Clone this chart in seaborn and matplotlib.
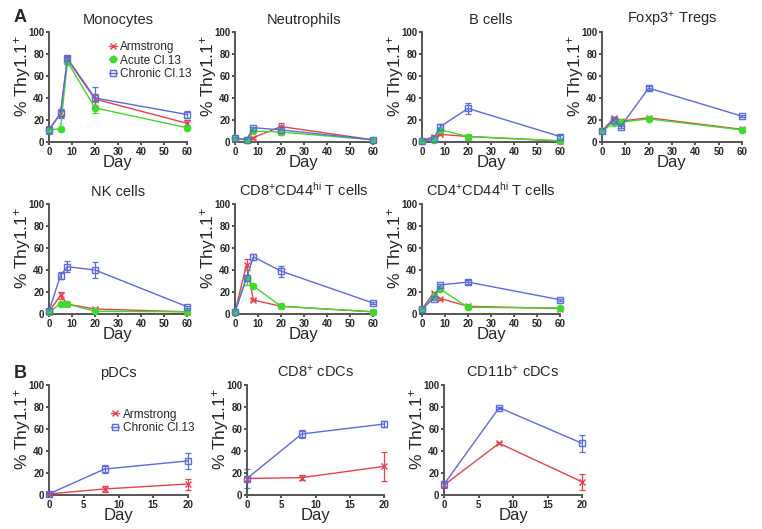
import matplotlib
matplotlib.use('Agg')
import matplotlib.pyplot as plt
import seaborn as sns
import pandas as pd

sns.set_style('ticks')
plt.rcParams['font.family'] = ['Liberation Sans', 'DejaVu Sans']
plt.rcParams['mathtext.fontset'] = 'custom'
plt.rcParams['mathtext.rm'] = 'Liberation Sans'
plt.rcParams['mathtext.it'] = 'Liberation Sans:italic'
plt.rcParams['mathtext.bf'] = 'Liberation Sans:bold'

RED = '#e8404c'
GREEN = '#3ddc2a'
BLUE = '#5a6be0'

days_a = [0, 5, 8, 20, 60]
days_b = [0, 8, 20]

# panel A
mono_arm = [11, 26, 75, 39, 17]
mono_arm_err = [2, 3, 2, 5, 3]
mono_acu = [11, 12, 73, 31, 13]
mono_acu_err = [2, 1, 2, 5, 2]
mono_chr = [11, 26, 76, 40, 25]
mono_chr_err = [4, 4, 2, 10, 3]

neut_arm = [3, 2, 4, 14, 2]
neut_arm_err = [1, 1, 1, 3, 1]
neut_acu = [3.5, 2, 10, 9, 2]
neut_acu_err = [1, 1, 1, 3, 1]
neut_chr = [3.7, 2, 13, 11, 2]
neut_chr_err = [1, 1, 1, 4, 1]

bcell_arm = [1, 5, 7, 5, 1]
bcell_arm_err = [0.5, 1, 1, 1, 0.5]
bcell_acu = [1, 2, 11, 5, 1]
bcell_acu_err = [0.5, 1, 1, 1, 0.5]
bcell_chr = [1, 3, 14, 30.5, 5]
bcell_chr_err = [0.5, 1, 2, 5, 1]

treg_arm = [10, 21.5, 19, 22, 11.5]
treg_arm_err = [1, 1.5, 1, 1, 1]
treg_acu = [10, 17, 18, 21, 11]
treg_acu_err = [1, 1, 1, 1, 1]
treg_chr = [10, 20, 14, 49, 23.5]
treg_chr_err = [1, 1.5, 1, 2, 1]

nk_arm = [2, 17, 9, 4.5, 2]
nk_arm_err = [0.5, 3, 1, 1, 0.5]
nk_acu = [2, 9, 9, 2.5, 2]
nk_acu_err = [0.5, 1, 1, 0.5, 0.5]
nk_chr = [2.7, 35, 43, 40, 6.7]
nk_chr_err = [1, 3, 5, 7, 1]

cd8_arm = [2, 45, 12.7, 7, 2]
cd8_arm_err = [0.5, 5, 1, 1, 0.5]
cd8_acu = [2, 33, 25.5, 7, 2]
cd8_acu_err = [0.5, 7, 1, 1, 0.5]
cd8_chr = [2, 33, 52, 39, 10]
cd8_chr_err = [0.5, 2, 3, 5, 1]

cd4_arm = [4.5, 19, 14, 7, 5]
cd4_arm_err = [0.5, 1, 1, 1, 0.5]
cd4_acu = [4.5, 16, 22.5, 6, 5.5]
cd4_acu_err = [0.5, 1, 1, 1, 0.5]
cd4_chr = [4.5, 14, 26.5, 29, 13]
cd4_chr_err = [0.5, 1, 1, 1.5, 1]

# panel B
pdc_arm = [1, 5.5, 10]
pdc_arm_err = [0.5, 3, 5]
pdc_chr = [1, 23.6, 31]
pdc_chr_err = [1, 4, 7]

cd8dc_arm = [15, 15.8, 26]
cd8dc_arm_err = [2, 2, 13]
cd8dc_chr = [15, 55.5, 64.5]
cd8dc_chr_err = [9, 4, 3]

cd11b_arm = [9, 47, 12]
cd11b_arm_err = [2, 1, 7]
cd11b_chr = [9.7, 79.4, 47]
cd11b_chr_err = [3, 1, 8]

W, H = 762, 529
fig = plt.figure(figsize=(W / 100, H / 100), dpi=100)


def make_ax(x0, x1, ytop, ybot):
    return fig.add_axes([x0 / W, 1 - ybot / H, (x1 - x0) / W, (ybot - ytop) / H])


def draw_series(ax, days, vals, errs, color, marker, label, mfc):
    df = pd.DataFrame({'Day': days, 'val': vals})
    sns.lineplot(data=df, x='Day', y='val', ax=ax, color=color, marker=marker,
                 markersize=4.5, mfc=mfc, mec=color,
                 mew=1.0, lw=1.0, label=label, clip_on=False, zorder=3)
    ax.errorbar(days, vals, yerr=errs, fmt='none', ecolor=color, elinewidth=0.9,
                capsize=2.2, capthick=0.9, clip_on=False, zorder=2)


def style_ax(ax, title, xmax, xstep):
    ax.set_xlim(0, xmax)
    ax.set_ylim(0, 100)
    ax.set_xticks(range(0, xmax + 1, xstep))
    ax.set_yticks(range(0, 101, 20))
    for lab in ax.get_xticklabels() + ax.get_yticklabels():
        lab.set_fontweight('bold')
    ax.tick_params(labelsize=7, length=2.5, width=1.2, pad=1, color='#333333')
    for s in ['top', 'right']:
        ax.spines[s].set_visible(False)
    for s in ['left', 'bottom']:
        ax.spines[s].set_linewidth(1.4)
        ax.spines[s].set_color('#555555')
    ax.set_title(title, fontsize=10.5, pad=6)
    ax.set_xlabel('Day', fontsize=12, labelpad=-1)
    ax.set_ylabel('% Thy1.1$^{+}$', fontsize=12.5)
    ax.yaxis.set_label_coords(-0.115, 0.6)


panels_a = [
    ('Monocytes', (49, 187, 32, 142), mono_arm, mono_arm_err, mono_acu, mono_acu_err, mono_chr, mono_chr_err),
    ('Neutrophils', (235, 373, 32, 142), neut_arm, neut_arm_err, neut_acu, neut_acu_err, neut_chr, neut_chr_err),
    ('B cells', (422, 560, 32, 142), bcell_arm, bcell_arm_err, bcell_acu, bcell_acu_err, bcell_chr, bcell_chr_err),
    ('Foxp3$^{+}$ Tregs', (602, 742, 32, 142), treg_arm, treg_arm_err, treg_acu, treg_acu_err, treg_chr, treg_chr_err),
    ('NK cells', (49, 187, 204, 314), nk_arm, nk_arm_err, nk_acu, nk_acu_err, nk_chr, nk_chr_err),
    ('CD8$^{+}$CD44$^{\\mathrm{hi}}$ T cells', (235, 373, 204, 314), cd8_arm, cd8_arm_err, cd8_acu, cd8_acu_err, cd8_chr, cd8_chr_err),
    ('CD4$^{+}$CD44$^{\\mathrm{hi}}$ T cells', (422, 560, 204, 314), cd4_arm, cd4_arm_err, cd4_acu, cd4_acu_err, cd4_chr, cd4_chr_err),
]

for i, (title, box, arm, arm_e, acu, acu_e, chro, chro_e) in enumerate(panels_a):
    ax = make_ax(*box)
    draw_series(ax, days_a, arm, arm_e, RED, 'x', 'Armstrong', RED)
    draw_series(ax, days_a, acu, acu_e, GREEN, 'o', 'Acute Cl.13', GREEN)
    draw_series(ax, days_a, chro, chro_e, BLUE, 's', 'Chronic Cl.13', 'none')
    style_ax(ax, title, 60, 10)
    if i == 0:
        ax.legend(loc='upper right', bbox_to_anchor=(1.07, 0.96), frameon=False, fontsize=8.5,
                  handlelength=0.7, handletextpad=0.3, labelspacing=0.12, borderaxespad=0)
    else:
        ax.get_legend().remove()

panels_b = [
    ('pDCs', (49, 188, 385, 495), pdc_arm, pdc_arm_err, pdc_chr, pdc_chr_err),
    ('CD8$^{+}$ cDCs', (247, 384, 385, 495), cd8dc_arm, cd8dc_arm_err, cd8dc_chr, cd8dc_chr_err),
    ('CD11b$^{+}$ cDCs', (444, 582, 385, 495), cd11b_arm, cd11b_arm_err, cd11b_chr, cd11b_chr_err),
]

for i, (title, box, arm, arm_e, chro, chro_e) in enumerate(panels_b):
    ax = make_ax(*box)
    draw_series(ax, days_b, arm, arm_e, RED, 'x', 'Armstrong', RED)
    draw_series(ax, days_b, chro, chro_e, BLUE, 's', 'Chronic Cl.13', 'none')
    style_ax(ax, title, 20, 5)
    if i == 0:
        ax.legend(loc='center right', bbox_to_anchor=(1.08, 0.67), frameon=False, fontsize=8.5,
                  handlelength=0.7, handletextpad=0.3, labelspacing=0.12, borderaxespad=0)
    else:
        ax.get_legend().remove()

fig.text(14 / W, 1 - 18 / H, 'A', fontsize=13, fontweight='bold', va='center', ha='left')
fig.text(14 / W, 1 - 373 / H, 'B', fontsize=13, fontweight='bold', va='center', ha='left')

fig.savefig('out.png', dpi=100)
